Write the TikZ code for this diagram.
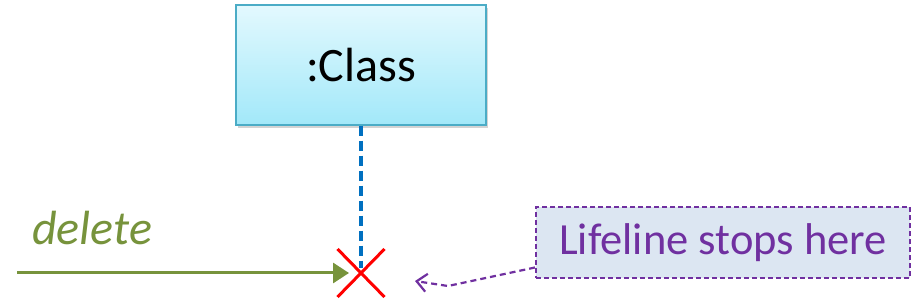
\documentclass[tikz,border=0pt]{standalone}
\usepackage{fontspec}
\setmainfont{Carlito}
\usetikzlibrary{shapes.misc,shadows,arrows.meta,calc}
\definecolor{clsborder}{HTML}{4BACC6}
\definecolor{clstop}{HTML}{E3F9FE}
\definecolor{clsbot}{HTML}{A2E8F9}
\definecolor{lifeblue}{HTML}{0070C0}
\definecolor{msggreen}{HTML}{77933C}
\definecolor{notepurple}{HTML}{7030A0}
\definecolor{notefill}{HTML}{DCE6F2}
\tikzset{
  classbox/.style={draw=clsborder, line width=1.5pt, top color=clstop, bottom color=clsbot,
    minimum width=250pt, minimum height=120pt, inner sep=0pt,
    drop shadow={shadow xshift=1.5pt, shadow yshift=-3pt, opacity=0.35},
    font=\fontsize{48}{56}\selectfont},
  lifeline/.style={draw=lifeblue, line width=4.5pt, dash pattern=on 10pt off 5pt},
  killmark/.style={cross out, draw=red, line width=3pt, minimum width=44pt, minimum height=45pt, inner sep=0pt},
  msgarrow/.style={draw=msggreen, line width=3pt, -{Triangle[length=16pt,width=20pt]}},
  msglabel/.style={text=msggreen, font=\fontsize{48}{56}\selectfont\itshape, inner sep=0pt, anchor=base west},
  notebox/.style={draw=notepurple, fill=notefill, line width=2pt, dash pattern=on 5pt off 3pt,
    minimum width=374pt, minimum height=71pt, inner sep=0pt, text=notepurple,
    font=\fontsize{44.5}{52}\selectfont},
  noteline/.style={draw=notepurple, line width=2.2pt, dash pattern=on 6pt off 4pt,
    -{Straight Barb[length=10pt,width=18pt,line width=2.2pt]}}
}
\begin{document}
\begin{tikzpicture}[x=1pt,y=-1pt]
\useasboundingbox (0,0) rectangle (916,299);
\node[classbox] (cls) at (361,65) {:Class};
\node[killmark] (kill) at (361,273) {};
\draw[lifeline] (cls.south) -- ($(kill.center)+(0,-5)$);
\coordinate (src) at (17,273);
\draw[msgarrow] (src) -- ($(kill.center)+(-12,0)$);
\node[msglabel] (del) at (32,245) {delete};
\node[notebox] (note) at (723,242.5) {Lifeline stops here};
\coordinate (bend) at (448,286);
\coordinate (tip) at (415,281);
\draw[noteline] ($(note.west)+(0,25)$) -- (bend) -- (tip);
\end{tikzpicture}
\end{document}
